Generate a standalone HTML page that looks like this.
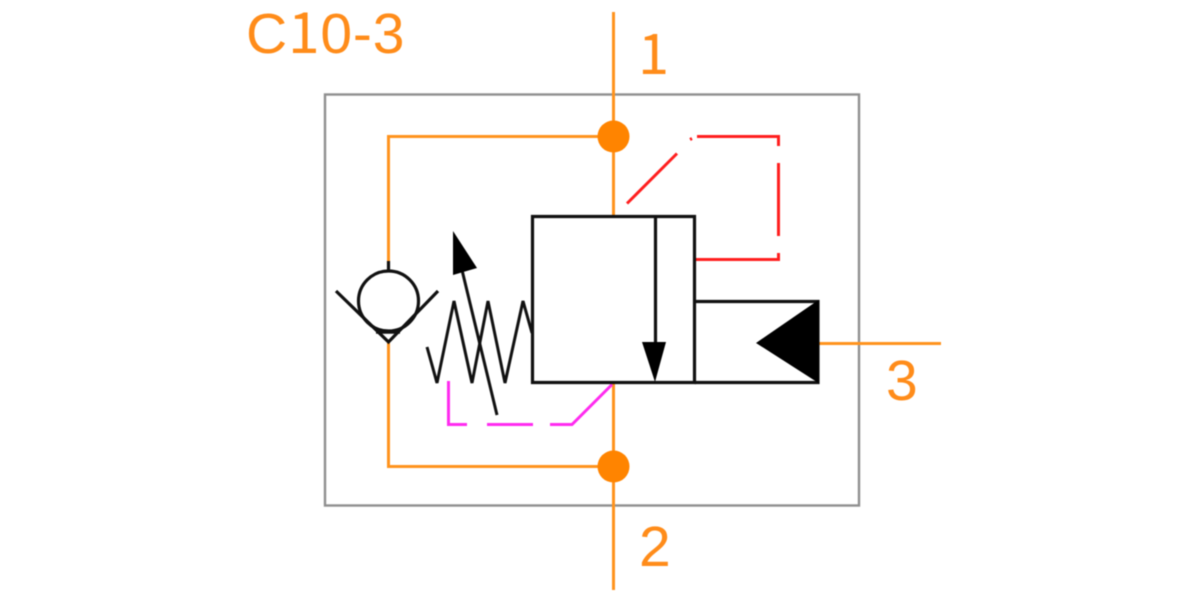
<!DOCTYPE html>
<html>
<head>
<meta charset="utf-8">
<style>
html,body{margin:0;padding:0;background:#fff;width:1200px;height:600px;overflow:hidden}
svg{display:block;filter:blur(0.6px)}
text{font-family:"Liberation Sans",sans-serif;fill:#ff8c1a}
.n{font-family:"Noto Sans CJK SC",sans-serif}
</style>
</head>
<body>
<svg width="1200" height="600" viewBox="0 0 1200 600" xmlns="http://www.w3.org/2000/svg">
<rect width="1200" height="600" fill="#fff"/>
<rect x="325" y="94.500" width="534" height="411" fill="none" stroke="#8f8f8f" stroke-width="2.4"/>
<g fill="none" stroke="#ff931e" stroke-width="3">
<path d="M613.500 12V216"/>
<path d="M613.500 383V590"/>
<path d="M613 136.500H388.500V262"/>
<path d="M388.500 342V466.500H613"/>
<path d="M818 343.500H941"/>
</g>
<circle cx="613.500" cy="136.500" r="16" fill="#ff8400"/>
<circle cx="613.500" cy="466.500" r="16" fill="#ff8400"/>
<g fill="none" stroke="#ff1f1f" stroke-width="3">
<path d="M627 203.500L677 153.500"/>
<path d="M690 139.500L692 138.500"/>
<path d="M697 136.500H778.500V146"/>
<path d="M778.500 163V236"/>
<path d="M778.500 253V259.500H695"/>
</g>
<g fill="none" stroke="#ff2bf0" stroke-width="3">
<path d="M448.500 381V424.500H467"/>
<path d="M487 424.500H533"/>
<path d="M550 424.500H572L612 384.500"/>
</g>
<g fill="none" stroke="#111" stroke-width="3.200">
<path d="M532.500 216.500H694.500V382.500H532.500Z"/>
<path d="M694.500 301.500H818V382.500H694.500"/>
<path d="M655.500 216V345"/>
<path d="M388.500 261V270"/>
<circle cx="388.500" cy="301" r="30"/>
<path d="M336 291L388.500 342L438 291"/>
<path d="M376 332.500H400" stroke-width="2.500"/>
<path d="M427 347L437 383L454 301L472 383L488 301L505 383L523 301L532 333" stroke-width="3"/>
<path d="M497 415L462 270" stroke-width="3"/>
</g>
<path d="M453 231L453 275L477 268Z" fill="#000"/>
<path d="M642 342H666L655 382Z" fill="#000"/>
<path d="M818.500 300V383L756 343Z" fill="#000"/>
<text x="246" y="53" font-size="57" letter-spacing="0.8">C<tspan class="n">1</tspan>0-3</text>
<text class="n" x="638" y="74" font-size="56">1</text>
<text x="639" y="566" font-size="57">2</text>
<text x="886" y="400" font-size="57">3</text>
</svg>
</body>
</html>
